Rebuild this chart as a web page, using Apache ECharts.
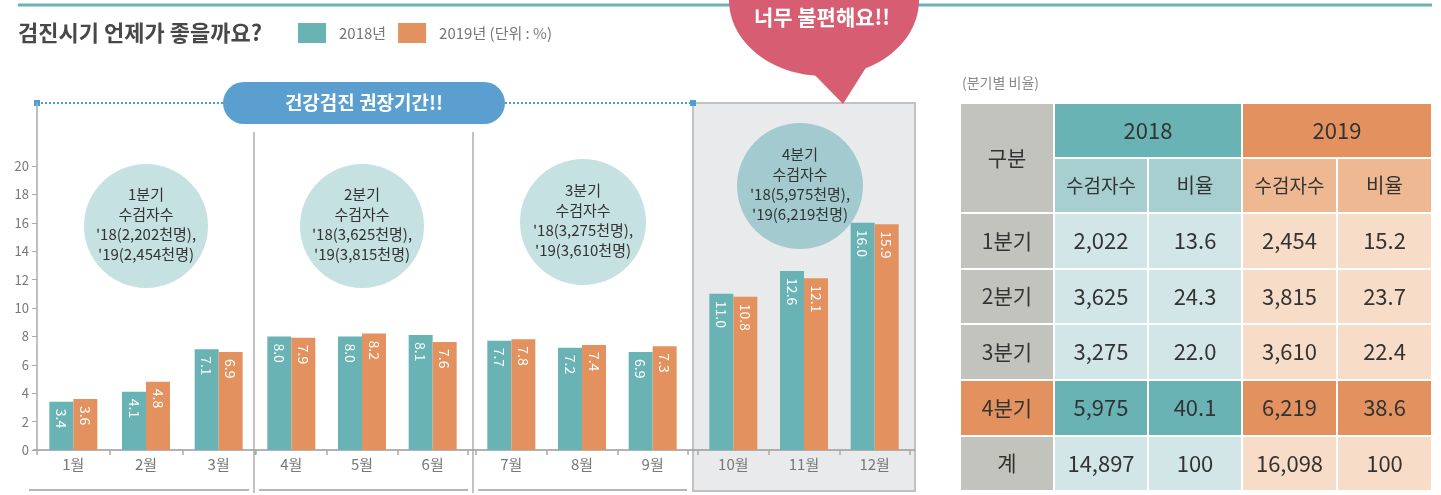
<!DOCTYPE html>
<html>
<head>
<meta charset="utf-8">
<script src="https://cdn.jsdelivr.net/npm/echarts@6/dist/echarts.min.js"></script>
<style>
html,body{margin:0;padding:0;background:#fff;}
#c{width:1441px;height:495px;}
</style>
</head>
<body>
<div id="c"></div>
<script>
// ---------- data ----------
var months = ['1월','2월','3월','4월','5월','6월','7월','8월','9월','10월','11월','12월'];
var rate2018 = [3.4, 4.1, 7.1, 8.0, 8.0, 8.1, 7.7, 7.2, 6.9, 11.0, 12.6, 16.0];
var rate2019 = [3.6, 4.8, 6.9, 7.9, 8.2, 7.6, 7.8, 7.4, 7.3, 10.8, 12.1, 15.9];
var yTicks = [0, 2, 4, 6, 8, 10, 12, 14, 16, 18, 20];
var seriesNames = ['2018년', '2019년'];

var quarterNames = ['1분기', '2분기', '3분기', '4분기'];
var bubble2018 = [2202, 3625, 3275, 5975];
var bubble2019 = [2454, 3815, 3610, 6219];

var tableRowNames = ['1분기', '2분기', '3분기', '4분기', '계'];
var count2018 = [2022, 3625, 3275, 5975, 14897];
var ratio2018 = [13.6, 24.3, 22.0, 40.1, 100];
var count2019 = [2454, 3815, 3610, 6219, 16098];
var ratio2019 = [15.2, 23.7, 22.4, 38.6, 100];

// ---------- helpers ----------
var FONT = '"Noto Sans CJK KR", "Noto Sans", sans-serif';
var TEAL = '#69b3b5', ORANGE = '#e3925f';
function comma(n){ return String(n).replace(/\B(?=(\d{3})+(?!\d))/g, ','); }
function ratioText(v){ return v === 100 ? '100' : v.toFixed(1); }

// panels: [start, end) month index and grid geometry
var panels = [
  {s:0, e:3, left:37, width:218},
  {s:3, e:6, left:256, width:212},
  {s:6, e:9, left:476, width:212},
  {s:9, e:12, left:698, width:212}
];
var YMAX = 24.44;

var grids = [], xAxes = [], yAxes = [], series = [];
panels.forEach(function(p, i){
  grids.push({left:p.left, width:p.width, top:103, bottom:45, containLabel:false});
  xAxes.push({
    type:'category', gridIndex:i, data:months.slice(p.s, p.e),
    axisLine:{show:false},
    axisTick:{show:true, length:5, lineStyle:{color:'#aaa', width:1.5}},
    axisLabel:{color:'#777', fontSize:15, margin:7, fontFamily:FONT}
  });
  yAxes.push({
    type:'value', gridIndex:i, min:0, max:YMAX, interval:2,
    show: i === 0,
    splitLine:{show:false},
    axisLine:{show:true, lineStyle:{color:'#aaa', width:1.5}},
    axisTick:{show:true, length:5, customValues:yTicks, lineStyle:{color:'#aaa'}},
    axisLabel:{color:'#777', fontSize:13, margin:8, fontFamily:FONT, customValues:yTicks,
      formatter:function(v){ return v <= 20 ? String(v) : ''; }}
  });
  [rate2018, rate2019].forEach(function(arr, k){
    series.push({
      type:'bar', name:seriesNames[k], xAxisIndex:i, yAxisIndex:i,
      data:arr.slice(p.s, p.e),
      barWidth:24, barGap:'0%',
      itemStyle:{color: k === 0 ? TEAL : ORANGE},
      label:{show:true, position:'insideTop', rotate:-90, align:'left', verticalAlign:'middle',
        distance:7, color:'#fff', fontSize:14, fontFamily:FONT,
        formatter:function(pr){ return pr.value.toFixed(1); }},
      emphasis:{disabled:true}
    });
  });
});

// ---------- graphics ----------
var g = [];
// top rule
g.push({type:'line', shape:{x1:18, y1:5, x2:1432, y2:5}, style:{stroke:TEAL, lineWidth:3}, z:-5});
// title
g.push({type:'text', x:18, y:33, style:{text:'검진시기 언제가 좋을까요?', fill:'#484848',
  font:'bold 22px ' + FONT, textVerticalAlign:'middle'}});
// gray Q4 box
g.push({type:'rect', shape:{x:693, y:103, width:222, height:388}, style:{fill:'#e9eaec', stroke:'#c2c2c2', lineWidth:2}, z:-10});
// dividers
[254, 473].forEach(function(x){
  g.push({type:'line', shape:{x1:x, y1:132, x2:x, y2:493}, style:{stroke:'#c2c2c2', lineWidth:2}, z:-5});
});
// bottom rules
[[29,249],[259,468],[478,687]].forEach(function(s){
  g.push({type:'line', shape:{x1:s[0], y1:490, x2:s[1], y2:490}, style:{stroke:'#b5b5b5', lineWidth:2}, z:-5});
});
// x axis line
g.push({type:'line', shape:{x1:33, y1:450, x2:915, y2:450}, style:{stroke:'#9a9a9a', lineWidth:1.5}, z:-4});
// dotted recommended period line
g.push({type:'line', shape:{x1:37, y1:103, x2:693, y2:103}, style:{stroke:'#4a9fd5', lineWidth:2, lineDash:[2,2]}, z:-3});
g.push({type:'rect', shape:{x:34, y:100, width:6, height:6}, style:{fill:'#4a9fd5'}});
g.push({type:'rect', shape:{x:690, y:100, width:6, height:6}, style:{fill:'#4a9fd5'}});
g.push({type:'rect', shape:{x:223, y:82, width:282, height:42, r:21}, style:{fill:'#5a9fcf'}});
g.push({type:'text', x:364, y:103, style:{text:'건강검진 권장기간!!', fill:'#fff', font:'bold 19px ' + FONT,
  textAlign:'center', textVerticalAlign:'middle'}});
// speech bubble
g.push({type:'polygon', shape:{points:[[808,68],[843,104],[872,58]]}, style:{fill:'#d75d72'}});
g.push({type:'ellipse', shape:{cx:824, cy:0, rx:95, ry:76}, style:{fill:'#d75d72'}});
g.push({type:'text', x:822, y:17, style:{text:'너무 불편해요!!', fill:'#fff', font:'bold 21px ' + FONT,
  textAlign:'center', textVerticalAlign:'middle'}});
// quarter circles
var circles = [[146,226,62,'#c6e1e1'],[362,226,62,'#c6e1e1'],[583,222,63,'#c6e1e1'],[800,186,63,'#a3cbcf']];
circles.forEach(function(c, i){
  g.push({type:'circle', shape:{cx:c[0], cy:c[1], r:c[2]}, style:{fill:c[3]}, z:1});
  var txt = quarterNames[i] + '\n수검자수\n\'18(' + comma(bubble2018[i]) + '천명),\n\'19(' + comma(bubble2019[i]) + '천명)';
  g.push({type:'text', x:c[0], y:c[1] - 2, z:1, style:{text:txt, fill:'#333', font:'15px ' + FONT,
    lineHeight:20, textAlign:'center', textVerticalAlign:'middle'}});
});
// table
g.push({type:'text', x:962, y:83, style:{text:'(분기별 비율)', fill:'#888', font:'14px ' + FONT, textVerticalAlign:'middle'}});
var cx = [960, 1054, 1148, 1242, 1337, 1432];
var ry = [103, 158, 213, 269, 324, 380, 436, 491];
function cell(x0, y0, x1, y1, fill, text, size){
  g.push({type:'rect', shape:{x:x0 + 1, y:y0 + 1, width:x1 - x0 - 2, height:y1 - y0 - 2}, style:{fill:fill}});
  g.push({type:'text', x:(x0 + x1) / 2, y:(y0 + y1) / 2, style:{text:text, fill:'#333', font:(size || 22) + 'px ' + FONT,
    textAlign:'center', textVerticalAlign:'middle'}});
}
cell(cx[0], ry[0], cx[1], ry[2], '#c3c3be', '구분', 21);
cell(cx[1], ry[0], cx[3], ry[1], TEAL, '2018');
cell(cx[3], ry[0], cx[5], ry[1], ORANGE, '2019');
cell(cx[1], ry[1], cx[2], ry[2], '#a7cfd0', '수검자수', 19);
cell(cx[2], ry[1], cx[3], ry[2], '#a7cfd0', '비율', 20);
cell(cx[3], ry[1], cx[4], ry[2], '#eeb892', '수검자수', 19);
cell(cx[4], ry[1], cx[5], ry[2], '#eeb892', '비율', 20);
tableRowNames.forEach(function(name, r){
  var hi = (r === 3);
  var y0 = ry[r + 2], y1 = ry[r + 3];
  cell(cx[0], y0, cx[1], y1, hi ? ORANGE : '#c3c3be', name, 21);
  cell(cx[1], y0, cx[2], y1, hi ? TEAL : '#d3e6e7', comma(count2018[r]));
  cell(cx[2], y0, cx[3], y1, hi ? TEAL : '#d3e6e7', ratioText(ratio2018[r]));
  cell(cx[3], y0, cx[4], y1, hi ? ORANGE : '#f7ddc8', comma(count2019[r]));
  cell(cx[4], y0, cx[5], y1, hi ? ORANGE : '#f7ddc8', ratioText(ratio2019[r]));
});

var chart = echarts.init(document.getElementById('c'), null, {renderer:'canvas'});
chart.setOption({
  animation:false,
  textStyle:{fontFamily:FONT},
  legend:{
    data:seriesNames, left:298, top:23, padding:0, itemWidth:28, itemHeight:20, itemGap:12,
    icon:'rect', selectedMode:false,
    textStyle:{color:'#777', fontSize:15, fontFamily:FONT, padding:[0,0,0,8]},
    formatter:function(n){ return n === '2019년' ? n + ' (단위 : %)' : n; }
  },
  grid:grids, xAxis:xAxes, yAxis:yAxes, series:series,
  graphic:{elements:g}
});
</script>
</body>
</html>
